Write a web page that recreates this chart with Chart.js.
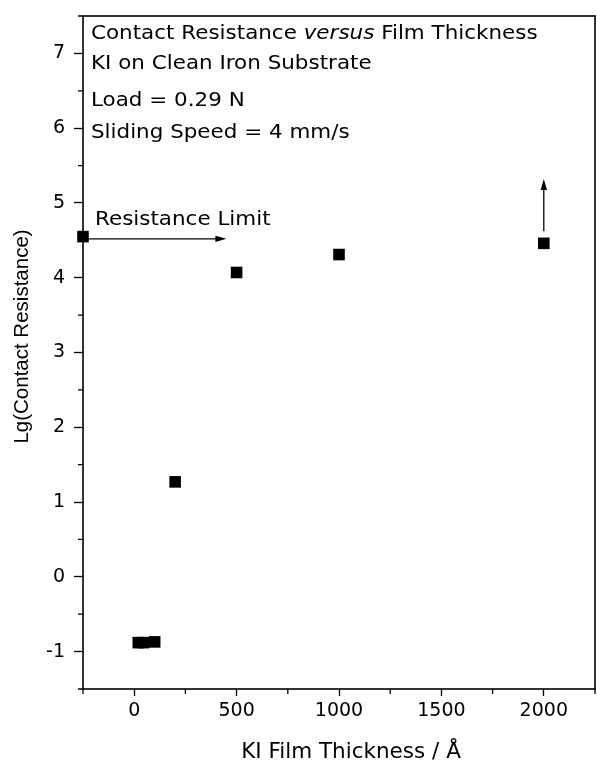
<!DOCTYPE html>
<html>
<head>
<meta charset="utf-8">
<script src="https://cdn.jsdelivr.net/npm/chart.js@4.4.1/dist/chart.umd.min.js"></script>
<style>
  html, body { margin: 0; padding: 0; background: #fff; overflow: hidden; }
  canvas { display: block; }
</style>
</head>
<body>
<canvas id="resChart" width="597" height="761"></canvas>
<script>
/*====================================
        DATA
====================================*/

const thickness = [-250, 20, 45, 100, 200, 500, 1000, 2000];
const lgResistance = [4.55, -0.88, -0.88, -0.87, 1.27, 4.07, 4.31, 4.46];

const xMajorTicks = [0, 500, 1000, 1500, 2000];
const xMinorTicks = [-250, 250, 750, 1250, 1750, 2250];
const yMajorTicks = [-1, 0, 1, 2, 3, 4, 5, 6, 7];
const yMinorTicks = [-1.5, -0.5, 0.5, 1.5, 2.5, 3.5, 4.5, 5.5, 6.5, 7.5];

// arrows in data units: [x1, y1, x2, y2]
const limitArrow = [-250, 4.52, 450, 4.52];
const upArrow = [2000, 4.62, 2000, 5.32];

const infoLines = [
    [["Contact Resistance ", "normal"], ["versus", "italic"], [" Film Thickness", "normal"]],
    [["KI on Clean Iron Substrate", "normal"]],
    [["Load = 0.29 N", "normal"]],
    [["Sliding Speed = 4 mm/s", "normal"]]
];
const infoBaselines = [23, 53, 90, 122];

const xTitle = "KI Film Thickness / Å";
const yTitle = "Lg(Contact Resistance)";

const FONT = "'DejaVu Sans', sans-serif";
const NARROW = "'Liberation Sans', Arial, sans-serif";
const STRETCH = 1.1;

/*====================================
        DRAWING HELPERS
====================================*/

function arrow(ctx, x1, y1, x2, y2){
    const ang = Math.atan2(y2 - y1, x2 - x1);
    const len = 11, half = 3.2;
    ctx.beginPath();
    ctx.moveTo(x1, y1);
    ctx.lineTo(x2 - Math.cos(ang) * len * 0.8, y2 - Math.sin(ang) * len * 0.8);
    ctx.stroke();
    ctx.beginPath();
    ctx.moveTo(x2, y2);
    ctx.lineTo(x2 - Math.cos(ang) * len - Math.sin(ang) * half, y2 - Math.sin(ang) * len + Math.cos(ang) * half);
    ctx.lineTo(x2 - Math.cos(ang) * len + Math.sin(ang) * half, y2 - Math.sin(ang) * len - Math.cos(ang) * half);
    ctx.closePath();
    ctx.fill();
}

// text drawn a bit wider, like the scanned original
function wideText(ctx, txt, x, y){
    ctx.save();
    ctx.translate(x, y);
    ctx.scale(STRETCH, 1);
    ctx.fillText(txt, 0, 0);
    ctx.restore();
    return ctx.measureText(txt).width * STRETCH;
}

const extras = {
    id: "extras",
    beforeDatasetsDraw(chart){
        const {ctx, chartArea: a, scales: {x, y}} = chart;
        ctx.save();
        ctx.strokeStyle = "#000";
        ctx.fillStyle = "#000";

        // frame
        ctx.lineWidth = 1.6;
        ctx.strokeRect(a.left, a.top, a.right - a.left, a.bottom - a.top);

        // minor ticks
        ctx.lineWidth = 1.3;
        ctx.beginPath();
        xMinorTicks.forEach(v => {
            const px = x.getPixelForValue(v);
            ctx.moveTo(px, a.bottom);
            ctx.lineTo(px, a.bottom + 5);
        });
        yMinorTicks.forEach(v => {
            const py = y.getPixelForValue(v);
            ctx.moveTo(a.left, py);
            ctx.lineTo(a.left - 5, py);
        });
        ctx.stroke();

        // arrows
        ctx.lineWidth = 1.3;
        arrow(ctx,
            x.getPixelForValue(limitArrow[0]), y.getPixelForValue(limitArrow[1]),
            x.getPixelForValue(limitArrow[2]), y.getPixelForValue(limitArrow[3]));
        arrow(ctx,
            x.getPixelForValue(upArrow[0]), y.getPixelForValue(upArrow[1]),
            x.getPixelForValue(upArrow[2]), y.getPixelForValue(upArrow[3]));

        // text inside the plot
        ctx.textBaseline = "alphabetic";
        ctx.textAlign = "left";
        infoLines.forEach((line, i) => {
            let tx = a.left + 8;
            line.forEach(([txt, style]) => {
                ctx.font = style + " 19.5px " + FONT;
                tx += wideText(ctx, txt, tx, a.top + infoBaselines[i]);
            });
        });
        ctx.font = "19.5px " + FONT;
        wideText(ctx, "Resistance Limit", a.left + 12, y.getPixelForValue(limitArrow[1]) - 14);

        // axis titles
        ctx.font = "21.5px " + FONT;
        ctx.textAlign = "center";
        ctx.fillText(xTitle, (a.left + a.right) / 2 + 12, a.bottom + 69);

        ctx.translate(22, (a.top + a.bottom) / 2 - 16);
        ctx.rotate(-Math.PI / 2);
        ctx.font = "20.5px " + NARROW;
        ctx.textBaseline = "middle";
        ctx.fillText(yTitle, 0, 0);

        ctx.restore();
    }
};

/*====================================
        CHART
====================================*/

const resChart = new Chart(

document.getElementById("resChart"),

{

type: "scatter",

data: {
    datasets: [{
        data: thickness.map((t, i) => ({x: t, y: lgResistance[i]})),
        pointStyle: "rect",
        pointRadius: 8.2,
        pointHoverRadius: 8.2,
        backgroundColor: "#000",
        borderColor: "#000",
        borderWidth: 0,
        clip: false
    }]
},

options: {
    responsive: false,
    animation: false,
    events: [],
    layout: {
        autoPadding: false,
        padding: { top: 16, right: 2, left: 0, bottom: 0 }
    },
    plugins: {
        legend: { display: false },
        tooltip: { enabled: false }
    },
    scales: {
        x: {
            type: "linear",
            min: -250,
            max: 2250,
            afterBuildTicks: s => { s.ticks = xMajorTicks.map(v => ({value: v})); },
            afterFit: s => {
                s.height = 72;
                s.paddingLeft = 0;
                s.paddingRight = 0;
            },
            border: { display: false },
            grid: {
                drawOnChartArea: false,
                drawTicks: true,
                tickLength: 7,
                tickWidth: 1.3,
                tickColor: "#000"
            },
            ticks: {
                color: "#000",
                font: { family: FONT, size: 19 },
                padding: 4,
                maxRotation: 0,
                callback: v => String(v)
            }
        },
        y: {
            type: "linear",
            min: -1.5,
            max: 7.5,
            afterBuildTicks: s => { s.ticks = yMajorTicks.map(v => ({value: v})); },
            afterFit: s => {
                s.width = 83;
                s.paddingTop = 0;
                s.paddingBottom = 0;
            },
            border: { display: false },
            grid: {
                drawOnChartArea: false,
                drawTicks: true,
                tickLength: 9,
                tickWidth: 1.3,
                tickColor: "#000"
            },
            ticks: {
                color: "#000",
                font: { family: FONT, size: 19 },
                padding: 9,
                callback: v => String(v)
            }
        }
    }
},

plugins: [extras]

});
</script>
</body>
</html>
